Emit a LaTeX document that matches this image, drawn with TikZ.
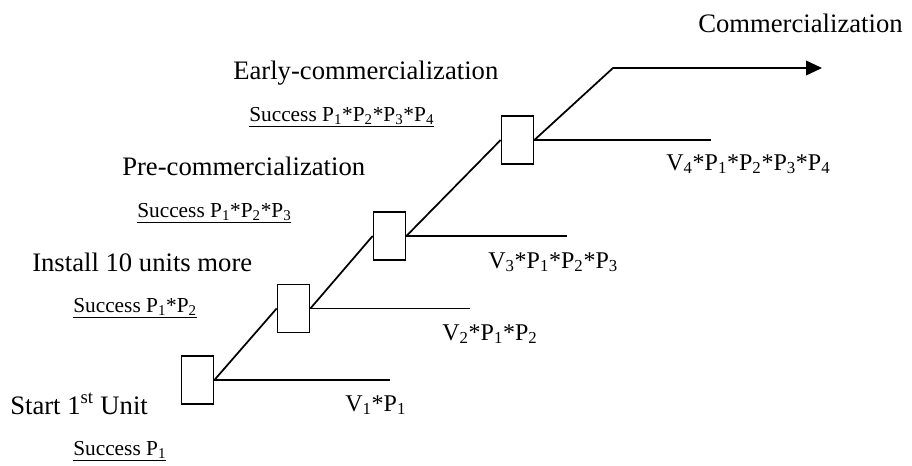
\documentclass[tikz,border=0pt]{standalone}
\usepackage{fontspec}
\setmainfont{Liberation Serif}
\usetikzlibrary{arrows.meta}
\newcommand\sbs[1]{\textsubscript{#1}}
\begin{document}
\begin{tikzpicture}[x=0.75pt,y=-0.75pt,
  stagebox/.style={draw,line width=1.3pt,minimum width=24pt,minimum height=36pt,inner sep=0pt},
  branch/.style={line width=1.3pt},
  stage/.style={anchor=base west,inner sep=0pt,font=\fontsize{20}{24}\selectfont},
  odds/.style={anchor=base west,inner sep=0pt,font=\fontsize{16}{19}\selectfont},
  payoff/.style={anchor=base west,inner sep=0pt,font=\fontsize{18}{22}\selectfont}]
\useasboundingbox (0,0) rectangle (912,465);

% decision boxes
\node[stagebox] (b1) at (197.5,380) {};
\node[stagebox] (b2) at (293.5,308.5) {};
\node[stagebox] (b3) at (389.5,236) {};
\node[stagebox] (b4) at (517.5,140) {};

% ends of the payoff branches and of the final arrow
\coordinate (e1) at (390,380);
\coordinate (e2) at (470,308.5);
\coordinate (e3) at (567,236);
\coordinate (e4) at (711,140);
\coordinate (c) at (613,68);
\coordinate (t) at (822,68);

% success path
\draw[branch] (b1.east) -- (b2.west);
\draw[branch] (b2.east) -- (b3.west);
\draw[branch] (b3.east) -- (b4.west);
\draw[branch,-{Triangle[length=12pt,width=11pt]}] (b4.east) -- (c) -- (t);

% payoff branches
\draw[branch] (b1.east) -- (e1);
\draw[branch] (b2.east) -- (e2);
\draw[branch] (b3.east) -- (e3);
\draw[branch] (b4.east) -- (e4);

% stage names
\node[stage] (s0) at (698,32) {Commercialization};
\node[stage] (s4) at (233,79) {Early-commercialization};
\node[stage] (s3) at (122,175) {Pre-commercialization};
\node[stage] (s2) at (32,271) {Install 10 units more};
\node[stage] (s1) at (10,414) {Start 1\textsuperscript{st} Unit};

% success probabilities
\node[odds] (p4) at (249,121) {\underline{Success P\sbs{1}*P\sbs{2}*P\sbs{3}*P\sbs{4}}};
\node[odds] (p3) at (137,217) {\underline{Success P\sbs{1}*P\sbs{2}*P\sbs{3}}};
\node[odds] (p2) at (73,312) {\underline{Success P\sbs{1}*P\sbs{2}}};
\node[odds] (p1) at (73,455) {\underline{Success P\sbs{1}}};

% expected values
\node[payoff] (v1) at (345,411) {V\sbs{1}*P\sbs{1}};
\node[payoff] (v2) at (442,340) {V\sbs{2}*P\sbs{1}*P\sbs{2}};
\node[payoff] (v3) at (488,268) {V\sbs{3}*P\sbs{1}*P\sbs{2}*P\sbs{3}};
\node[payoff] (v4) at (666,170) {V\sbs{4}*P\sbs{1}*P\sbs{2}*P\sbs{3}*P\sbs{4}};
\end{tikzpicture}
\end{document}
